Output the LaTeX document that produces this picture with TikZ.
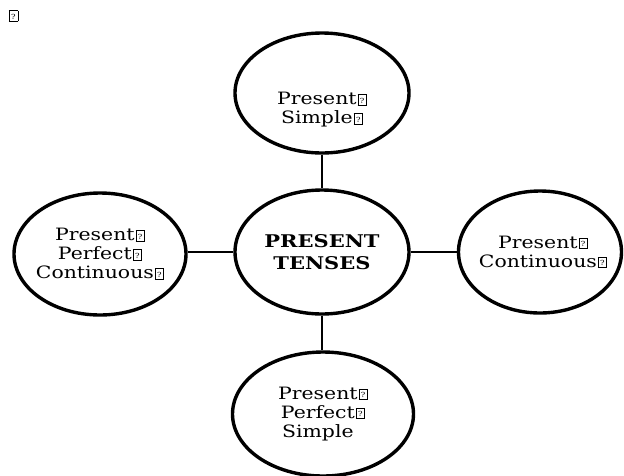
\documentclass[tikz,border=0pt]{standalone}
\usepackage{fontspec}
\setmainfont{DejaVu Serif}[FakeStretch=1.2]
\usetikzlibrary{shapes.geometric}

% placeholder glyph box: a small frame holding a question mark
\newcommand\gapbox{\kern1pt{\setlength\fboxsep{0pt}\setlength\fboxrule{0.6pt}%
  \fbox{\makebox[8pt][c]{\rule{0pt}{10pt}\raisebox{1.8pt}{\fontsize{7}{7}\selectfont ?}}}}}

\begin{document}
\begin{tikzpicture}[x=1pt,y=-1pt,
  bubble/.style={ellipse, draw=black, line width=3.4pt, fill=white, inner sep=0pt},
  caption/.style={align=center, inner sep=0pt, font=\fontsize{17}{19}\selectfont},
  link/.style={draw=black, line width=1.8pt}]
\useasboundingbox (0,0) rectangle (624,475);
\clip (0,0) rectangle (624,475);

\node[inner sep=0pt] (corner) at (13,16) {\gapbox};

% ellipses: the central topic and the four tenses
\node[bubble, minimum width=174pt, minimum height=124pt] (core) at (322,252) {};
\node[bubble, minimum width=174pt, minimum height=120pt] (simple) at (322,93) {};
\node[bubble, minimum width=172pt, minimum height=122pt] (perfcont) at (100,254) {};
\node[bubble, minimum width=163pt, minimum height=122pt] (cont) at (540,252) {};
\node[bubble, minimum width=181pt, minimum height=124pt] (perf) at (323,414) {};

% captions
\node[caption, font=\fontsize{17.5}{22}\selectfont\bfseries] (coretext) at (core)
  {PRESENT\\TENSES};
\node[caption] (simpletext) at (322,110) {Present\gapbox\\Simple\gapbox};
\node[caption] (perfconttext) at (perfcont)
  {Present\gapbox\\Perfect\gapbox\\Continuous\gapbox};
\node[caption] (conttext) at (543,252) {Present\gapbox\\Continuous\gapbox};
\node[caption] (perftext) at (perf)
  {Present\gapbox\\Perfect\gapbox\\Simple\phantom{\gapbox}};

% connectors
\draw[link] (simple.south) -- (core.north);
\draw[link] (core.south) -- (perf.north -| core.south);
\draw[link] (core.west) -- (core.west -| perfcont.east);
\draw[link] (core.east) -- (cont.west);
\end{tikzpicture}
\end{document}
